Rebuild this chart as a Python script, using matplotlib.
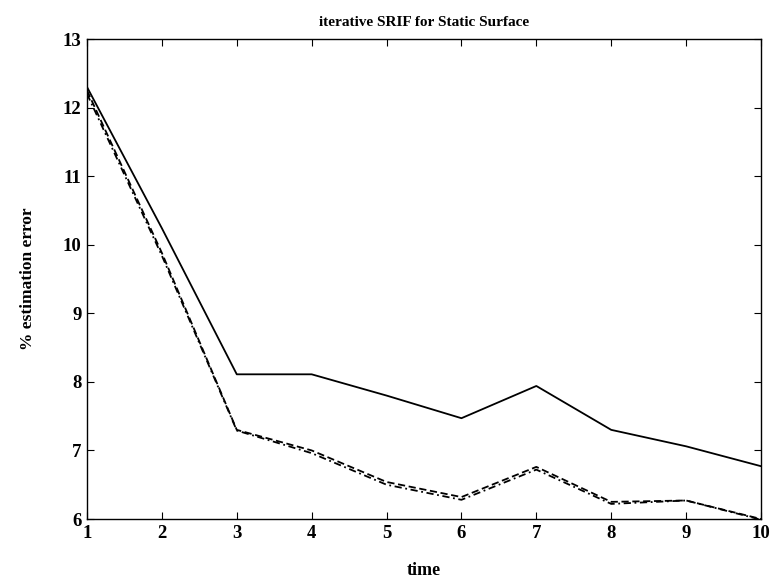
import matplotlib
matplotlib.use("Agg")
import matplotlib.pyplot as plt

# iteration index
time = [1, 2, 3, 4, 5, 6, 7, 8, 9, 10]

# percent estimation error for the three runs
err_solid = [12.3, 10.24, 8.11, 8.11, 7.8, 7.47, 7.94, 7.3, 7.06, 6.77]
err_dashed = [12.25, 9.88, 7.3, 7.0, 6.54, 6.32, 6.76, 6.25, 6.27, 6.0]
err_dashdot = [12.2, 9.84, 7.29, 6.96, 6.5, 6.28, 6.72, 6.22, 6.27, 5.99]

x_ticks = [1, 2, 3, 4, 5, 6, 7, 8, 9, 10]
y_ticks = [6, 7, 8, 9, 10, 11, 12, 13]

plt.rcParams['font.family'] = ['Liberation Serif', 'DejaVu Serif']

fig = plt.figure(figsize=(7.74, 5.82), dpi=100)
ax = fig.add_axes([87 / 774, 1 - 519 / 582, (761 - 87) / 774, (519 - 39) / 582])

ax.plot(time, err_solid, color='black', lw=1.3, ls='-')
ax.plot(time, err_dashed, color='black', lw=1.3, ls=(0, (4, 2)))
ax.plot(time, err_dashdot, color='black', lw=1.3, ls=(0, (4, 2, 1, 2)))

ax.set_xlim(1, 10)
ax.set_ylim(6, 13)
ax.set_xticks(x_ticks)
ax.set_yticks(y_ticks)
ax.tick_params(direction='in', length=5, width=0.8, top=True, right=True,
               labelsize=13.5, pad=4)
for lbl in ax.get_xticklabels() + ax.get_yticklabels():
    lbl.set_fontweight('bold')
for sp in ax.spines.values():
    sp.set_linewidth(1.0)

ax.set_title('iterative SRIF for Static Surface', fontsize=11, fontweight='bold', pad=9)
ax.set_xlabel('time', fontsize=13, fontweight='bold', labelpad=15)
ax.set_ylabel('% estimation error', fontsize=12.5, fontweight='bold', labelpad=19)

fig.savefig('out.png', dpi=100)
